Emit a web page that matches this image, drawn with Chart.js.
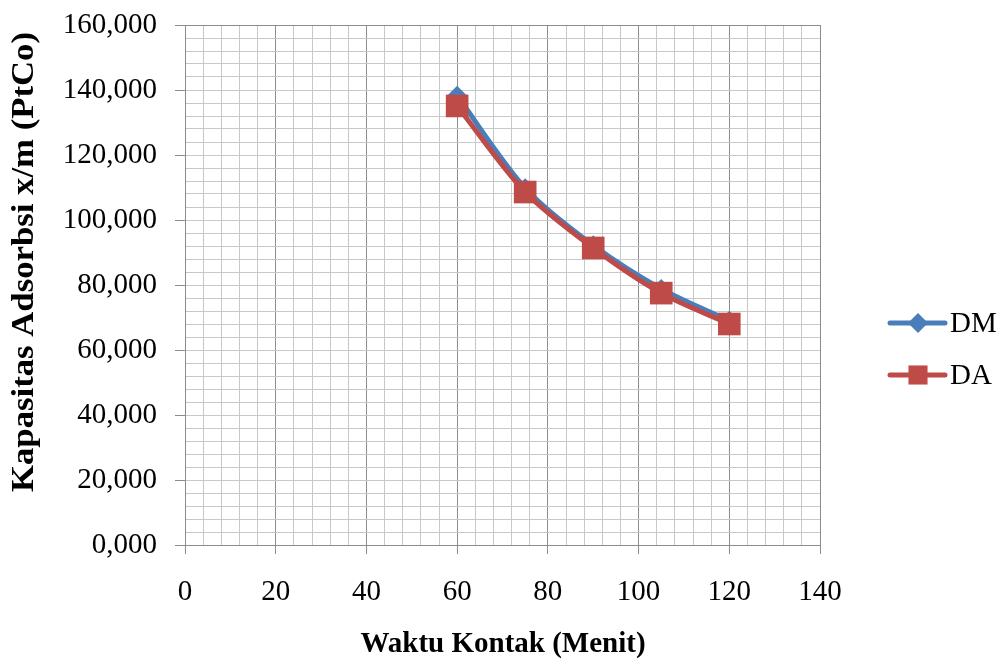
<!DOCTYPE html>
<html>
<head>
<meta charset="utf-8">
<script src="https://cdn.jsdelivr.net/npm/chart.js@4"></script>
<style>
  html, body { margin: 0; padding: 0; background: #fff; }
  #wrap { width: 1005px; height: 663px; }
</style>
</head>
<body>
<div id="wrap"><canvas id="c" width="1005" height="663"></canvas></div>
<script>
// Contact time (minutes)
const waktu = [60, 75, 90, 105, 120];
// Adsorption capacity x/m (PtCo)
const dmValues = [138.2, 109.8, 92.2, 78.8, 69.0];
const daValues = [135.1, 108.6, 91.4, 77.5, 68.0];
const seriesNames = ['DM', 'DA'];
const xTitle = 'Waktu Kontak (Menit)';
const yTitle = 'Kapasitas Adsorbsi x/m (PtCo)';

const BLUE = '#4a7ebb';
const RED = '#be4b48';
const FONT = "'Liberation Serif', 'Times New Roman', serif";
const GRID_MINOR = '#c8c8c8';
const GRID_MAJOR = '#8c8c8c';

const toPts = (vals) => waktu.map((x, i) => ({ x: x, y: vals[i] }));

// axis titles and the line+marker legend on the right
const decorations = {
  id: 'decorations',
  afterDraw(chart) {
    const ctx = chart.ctx;
    ctx.save();
    ctx.fillStyle = '#000';
    ctx.textAlign = 'center';
    ctx.textBaseline = 'alphabetic';
    ctx.font = 'bold 29px ' + FONT;
    ctx.fillText(xTitle, 503, 652);
    ctx.restore();

    ctx.save();
    ctx.fillStyle = '#000';
    ctx.textAlign = 'center';
    ctx.textBaseline = 'alphabetic';
    ctx.font = 'bold 31px ' + FONT;
    ctx.translate(33, 262);
    ctx.rotate(-Math.PI / 2);
    ctx.scale(1.12, 1);
    ctx.fillText(yTitle, 0, 0);
    ctx.restore();

    const items = [
      { name: seriesNames[0], color: BLUE, style: 'rectRot', r: 10, y: 323 },
      { name: seriesNames[1], color: RED, style: 'rect', r: 13.5, y: 375 }
    ];
    items.forEach(it => {
      ctx.save();
      ctx.strokeStyle = it.color;
      ctx.lineWidth = 5;
      ctx.lineCap = 'round';
      ctx.beginPath();
      ctx.moveTo(890, it.y);
      ctx.lineTo(945, it.y);
      ctx.stroke();
      ctx.fillStyle = it.color;
      ctx.strokeStyle = it.color;
      Chart.helpers.drawPoint(ctx, { pointStyle: it.style, radius: it.r, rotation: 0, borderWidth: 0 }, 918, it.y);
      ctx.fillStyle = '#000';
      ctx.font = '29px ' + FONT;
      ctx.textAlign = 'left';
      ctx.textBaseline = 'middle';
      ctx.fillText(it.name, 950, it.y + 1);
      ctx.restore();
    });
  }
};

new Chart(document.getElementById('c'), {
  type: 'line',
  data: {
    datasets: [
      {
        label: seriesNames[0],
        data: toPts(dmValues),
        borderColor: BLUE,
        backgroundColor: BLUE,
        borderWidth: 5,
        pointStyle: 'rectRot',
        pointRadius: 10,
        pointBorderWidth: 0,
        tension: 0.3,
        order: 1
      },
      {
        label: seriesNames[1],
        data: toPts(daValues),
        borderColor: RED,
        backgroundColor: RED,
        borderWidth: 5,
        pointStyle: 'rect',
        pointRadius: 16,
        pointBorderWidth: 0,
        tension: 0.3,
        order: 0
      }
    ]
  },
  options: {
    responsive: false,
    animation: false,
    devicePixelRatio: 1,
    layout: { padding: { top: 25, right: 185, left: 0, bottom: 0 } },
    plugins: { legend: { display: false }, tooltip: { enabled: false } },
    scales: {
      x: {
        type: 'linear',
        min: 0, max: 140,
        afterFit(s) { s.height = 118; s.paddingLeft = 0; s.paddingRight = 0; },
        border: { color: GRID_MAJOR, width: 1 },
        grid: {
          color: c => (c.tick && c.tick.value % 20 === 0) ? GRID_MAJOR : GRID_MINOR,
          lineWidth: 1,
          tickLength: 9,
          tickColor: c => (c.tick && c.tick.value % 20 === 0) ? GRID_MAJOR : 'rgba(0,0,0,0)'
        },
        ticks: {
          stepSize: 4,
          autoSkip: false,
          maxRotation: 0,
          padding: 21,
          color: '#000',
          font: { family: FONT, size: 29 },
          callback: v => (v % 20 === 0 ? String(v) : '')
        }
      },
      y: {
        type: 'linear',
        min: 0, max: 160,
        afterFit(s) { s.width = 185; s.paddingTop = 0; s.paddingBottom = 0; },
        border: { color: GRID_MAJOR, width: 1 },
        grid: {
          color: c => (c.tick && c.tick.value === 160) ? GRID_MAJOR : GRID_MINOR,
          lineWidth: 1,
          tickLength: 10,
          tickColor: c => (c.tick && c.tick.value % 20 === 0) ? GRID_MAJOR : 'rgba(0,0,0,0)'
        },
        ticks: {
          stepSize: 4,
          autoSkip: false,
          padding: 18,
          color: '#000',
          font: { family: FONT, size: 29 },
          callback: v => (v % 20 === 0 ? v.toFixed(3).replace('.', ',') : '')
        }
      }
    }
  },
  plugins: [decorations]
});
</script>
</body>
</html>
